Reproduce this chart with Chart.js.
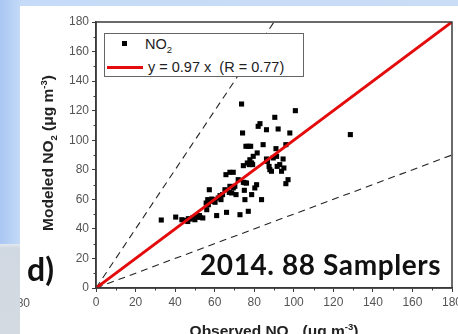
<!DOCTYPE html>
<html>
<head>
	<meta charset="UTF-8">
	<title>Modeled vs Observed NO2</title>
	<script src="https://cdn.jsdelivr.net/npm/chart.js@4"></script>
	<style>
		html, body { margin:0; padding:0; }
		body {
			width:458px; height:334px; overflow:hidden; position:relative;
			background: linear-gradient(to right, #a9c7f3 0px, #c6dbf7 22px, #c9ddf7 100%);
			font-family: "Liberation Sans", Arial, sans-serif;
		}
		#lowerLeft { position:absolute; left:0; top:244px; width:20px; height:90px;
			background: linear-gradient(to bottom, #e4e9ef 0px, #d0d8e1 4px, #d3dae2 100%); }
		#panel { position:absolute; left:20px; top:6px; width:438px; height:328px; background:#fff; overflow:hidden; }
		#chartBox { position:absolute; left:0; top:0; width:450px; height:328px; }
		.txt { position:absolute; white-space:nowrap; color:#111; }
		#legend { position:absolute; left:84px; top:27px; width:198px; height:42px; border:1px solid #666; background:#fff; }
		#legMark { position:absolute; left:17px; top:7px; width:5px; height:5px; background:#000; }
		#legLine { position:absolute; left:2px; top:32px; width:36px; height:3px; background:#e30b0b; }
		.leg { position:absolute; font-size:14.5px; color:#222; white-space:nowrap; }
		.axTitle { position:absolute; font-weight:bold; font-size:15.5px; color:#222; white-space:nowrap; }
		sub, sup { font-size:9.5px; line-height:0; }
	</style>
</head>
<body>
	<div id="lowerLeft"></div>
	<div id="panel">
		<div id="chartBox"><canvas id="no2Chart" width="450" height="328"></canvas></div>
		<div class="txt" style="left:-10px; top:290px; font-size:12px; color:#555;">180</div>
		<div id="legend">
			<div id="legMark"></div>
			<div class="leg" style="left:40px; top:2px;">NO<sub>2</sub></div>
			<div id="legLine"></div>
			<div class="leg" style="left:43px; top:25px;">y = 0.97 x&nbsp; (R = 0.77)</div>
		</div>
		<div class="axTitle" id="yTitle" style="left:28px; top:147px; transform:translate(-50%,-50%) rotate(-90deg);">Modeled NO<sub>2</sub> (μg m<sup>-3</sup>)</div>
		<div class="axTitle" style="left:254px; top:316px; transform:translateX(-50%);">Observed NO<sub>2</sub> &nbsp;(μg m<sup>-3</sup>)</div>
		<div class="txt" style="left:7px; top:247px; font-family:Lato, sans-serif; font-weight:bold; font-size:32px; line-height:32px;">d)</div>
		<div class="txt" style="left:180px; top:244px; font-family:Lato, sans-serif; font-weight:bold; font-size:28px; line-height:28px; letter-spacing:0.6px;">2014. 88 Samplers</div>
	</div>
	<script>
	// observed / modeled NO2 per sampler
	let obsX = [33, 40.3, 43.4, 45, 46.4, 47.6, 48.9, 50.6, 52.3, 54, 56, 57.3, 56.5, 58.2, 59.3, 61, 60.2, 63.2, 62.7, 66,
		65.7, 67.7, 69.4, 67.4, 67.7, 69.4, 70.8, 72.8, 73.6, 74.1, 74.5, 75, 75.3, 75.8, 76.1, 77, 77.5, 78.2, 78.7, 78.7,
		79.5, 80.3, 81.2, 81.5, 82, 82.9, 83.7, 84.5, 86.2, 86.7, 87.9, 88.7, 89.6, 90.4, 91, 91.3, 91.6, 92.1, 92.9, 93.8,
		94.6, 95, 96, 97.1, 96, 98, 100.8, 128.6, 77, 76.5, 77.8, 79.2, 64, 65.2, 68.6, 70.2, 71.9, 55.7, 56.8, 58.5,
		61.8, 46.7, 50, 52.6, 74.5, 75.3, 86.2, 87.5];
	let obsY = [46, 48, 46.2, 45.8, 45, 46.7, 47.4, 48, 49, 47.4, 53, 66.5, 59.8, 58.6, 59.8, 49, 58, 59.8, 62.5, 51.2,
		76.7, 78.3, 78.3, 64.7, 68.8, 67.7, 63.2, 49.6, 124.5, 104.9, 71.5, 66.1, 59.8, 95.9, 71, 51.9, 83.5, 95.9, 63.2, 84.6,
		89.1, 67.7, 69.9, 91.4, 109.4, 111.2, 59.8, 97, 107.1, 85.7, 80.1, 79, 88, 115.5, 94.3, 89.1, 82.3, 107.6, 83.5, 79,
		87.3, 81.2, 70.6, 73.3, 97, 104.9, 120, 103.8, 95.9, 84.6, 86.8, 83.5, 63.2, 66.5, 64.3, 68.8, 73.3, 57.5, 56.4, 60.2,
		60.9, 46.9, 46.2, 47.8, 82.8, 71.2, 87.3, 82.3];

	// reference lines: fitted line and factor-of-2 envelope
	let fitX = [0, 180], fitY = [0, 180];
	let upperX = [0, 90], upperY = [0, 180];
	let lowerX = [0, 180], lowerY = [0, 90];

	let axisMin = 0, axisMax = 180, majorStep = 20, minorStep = 10;

	let pairs = (xs, ys) => xs.map((v, i) => ({x: v, y: ys[i]}));

	// frame around plot + minor ticks
	let framePlugin = {
		id: 'frame',
		afterDraw(chart){
			let ctx = chart.ctx, a = chart.chartArea;
			let xs = chart.scales.x, ys = chart.scales.y;
			ctx.save();
			ctx.strokeStyle = '#3a3a3a';
			ctx.lineWidth = 1.5;
			ctx.strokeRect(a.left, a.top, a.right - a.left, a.bottom - a.top);
			ctx.lineWidth = 1;
			ctx.beginPath();
			for(let v = axisMin + minorStep; v < axisMax; v += majorStep){
				let px = Math.round(xs.getPixelForValue(v)) + 0.5;
				ctx.moveTo(px, a.bottom); ctx.lineTo(px, a.bottom + 2.5);
				let py = Math.round(ys.getPixelForValue(v)) + 0.5;
				ctx.moveTo(a.left, py); ctx.lineTo(a.left - 2.5, py);
			}
			ctx.stroke();
			ctx.restore();
		}
	};

	let tickFont = {family: '"Liberation Sans", Arial, sans-serif', size: 12};

	new Chart(document.getElementById('no2Chart'), {
		type: 'scatter',
		data: {
			datasets: [{
				label: 'fit',
				data: pairs(fitX, fitY),
				showLine: true,
				borderColor: '#e30b0b',
				borderWidth: 3,
				pointRadius: 0,
				order: 0
			}, {
				label: 'NO2',
				data: pairs(obsX, obsY),
				pointStyle: 'rect',
				pointRadius: 3.6,
				pointHoverRadius: 3.6,
				backgroundColor: '#000',
				borderColor: '#000',
				borderWidth: 0,
				order: 1
			}, {
				label: 'upper',
				data: pairs(upperX, upperY),
				showLine: true,
				borderColor: '#222',
				borderWidth: 1.1,
				borderDash: [7, 5],
				pointRadius: 0,
				order: 2
			}, {
				label: 'lower',
				data: pairs(lowerX, lowerY),
				showLine: true,
				borderColor: '#222',
				borderWidth: 1.1,
				borderDash: [7, 5],
				pointRadius: 0,
				order: 2
			}]
		},
		options: {
			responsive: false,
			animation: false,
			events: [],
			layout: { padding: {top: 16, right: 18, left: 0, bottom: 0} },
			plugins: { legend: {display: false}, tooltip: {enabled: false} },
			scales: {
				x: {
					type: 'linear', min: axisMin, max: axisMax,
					ticks: { stepSize: majorStep, color: '#555', font: tickFont, padding: 3 },
					grid: { drawOnChartArea: false, tickLength: 4, color: '#3a3a3a' },
					border: { color: '#3a3a3a', width: 1.5 },
					afterFit(s){ s.height = 46; }
				},
				y: {
					type: 'linear', min: axisMin, max: axisMax,
					ticks: { stepSize: majorStep, color: '#555', font: tickFont, padding: 3 },
					grid: { drawOnChartArea: false, tickLength: 4, color: '#3a3a3a' },
					border: { color: '#3a3a3a', width: 1.5 },
					afterFit(s){ s.width = 76; }
				}
			}
		},
		plugins: [framePlugin]
	});
	</script>
</body>
</html>
